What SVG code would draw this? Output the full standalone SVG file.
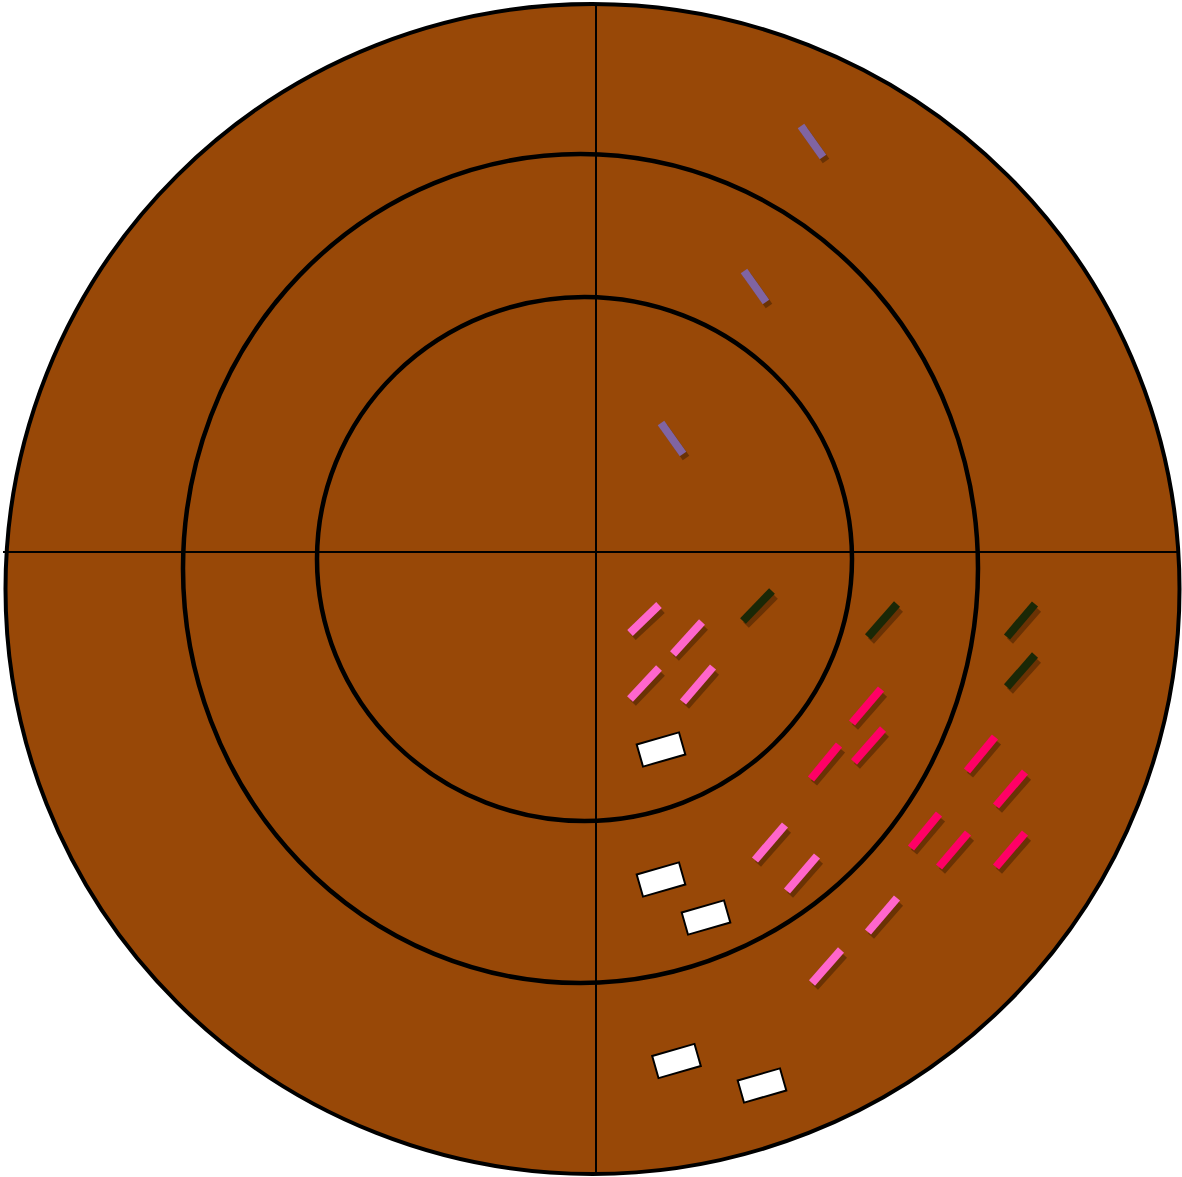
<svg xmlns="http://www.w3.org/2000/svg" width="1182" height="1177" viewBox="0 0 1182 1177">
<style>
.ring{fill:none;stroke:#000;stroke-width:4.5}
.axis{stroke:#000;stroke-width:2}
.sh{stroke:#6a3204;stroke-width:8}
.fg{stroke-width:8}
.pu .fg{stroke:#8064a2}
.pk .fg{stroke:#ff66cc}
.hp .fg{stroke:#ff0066}
.dg .fg{stroke:#1a2806}
.box{fill:#fff;stroke:#000;stroke-width:2}
</style>
<g id="disc">
<ellipse cx="592.5" cy="589" rx="587" ry="585" fill="#984807" stroke="#000" stroke-width="4"/>
<ellipse class="ring" cx="580.5" cy="568.5" rx="397.5" ry="414.5"/>
<ellipse class="ring" cx="584.5" cy="559" rx="267.5" ry="262"/>
<line class="axis" x1="596" y1="4" x2="596" y2="1174"/>
<line class="axis" x1="3" y1="552" x2="1180" y2="552"/>
</g>
<g id="purple-bars">
<g class="bar pu"><line class="sh" x1="804" y1="130" x2="826" y2="161" stroke-width="8"/><line class="fg" x1="801" y1="126" x2="823" y2="157" stroke-width="8"/></g>
<g class="bar pu"><line class="sh" x1="747" y1="275" x2="769" y2="306" stroke-width="8"/><line class="fg" x1="744" y1="271" x2="766" y2="302" stroke-width="8"/></g>
<g class="bar pu"><line class="sh" x1="664" y1="427" x2="686" y2="458" stroke-width="8"/><line class="fg" x1="661" y1="423" x2="683" y2="454" stroke-width="8"/></g>
</g>
<g id="pink-bars">
<g class="bar pk"><line class="sh" x1="633" y1="637" x2="662" y2="610"/><line class="fg" x1="630" y1="633" x2="659" y2="605"/></g>
<g class="bar pk"><line class="sh" x1="676" y1="658" x2="705" y2="627"/><line class="fg" x1="673" y1="654" x2="702" y2="622"/></g>
<g class="bar pk"><line class="sh" x1="633" y1="703" x2="662" y2="673"/><line class="fg" x1="630" y1="699" x2="659" y2="668"/></g>
<g class="bar pk"><line class="sh" x1="686" y1="706" x2="716" y2="672"/><line class="fg" x1="683" y1="702" x2="713" y2="667"/></g>
<g class="bar pk"><line class="sh" x1="758" y1="864" x2="788" y2="830"/><line class="fg" x1="755" y1="860" x2="785" y2="825"/></g>
<g class="bar pk"><line class="sh" x1="790" y1="895" x2="820" y2="861"/><line class="fg" x1="787" y1="891" x2="817" y2="856"/></g>
<g class="bar pk"><line class="sh" x1="871" y1="936" x2="900" y2="903"/><line class="fg" x1="868" y1="932" x2="897" y2="898"/></g>
<g class="bar pk"><line class="sh" x1="815" y1="987" x2="844" y2="955"/><line class="fg" x1="812" y1="983" x2="841" y2="950"/></g>
</g>
<g id="green-bars">
<g class="bar dg"><line class="sh" x1="746" y1="625" x2="775" y2="596"/><line class="fg" x1="743" y1="621" x2="772" y2="591"/></g>
<g class="bar dg"><line class="sh" x1="871" y1="641" x2="900" y2="609"/><line class="fg" x1="868" y1="637" x2="897" y2="604"/></g>
<g class="bar dg"><line class="sh" x1="1010" y1="641" x2="1038" y2="609"/><line class="fg" x1="1007" y1="637" x2="1035" y2="604"/></g>
<g class="bar dg"><line class="sh" x1="1010" y1="691" x2="1038" y2="660"/><line class="fg" x1="1007" y1="687" x2="1035" y2="655"/></g>
</g>
<g id="hotpink-bars">
<g class="bar hp"><line class="sh" x1="855" y1="727" x2="884" y2="694"/><line class="fg" x1="852" y1="723" x2="881" y2="689"/></g>
<g class="bar hp"><line class="sh" x1="857" y1="766" x2="886" y2="734"/><line class="fg" x1="854" y1="762" x2="883" y2="729"/></g>
<g class="bar hp"><line class="sh" x1="814" y1="783" x2="842" y2="750"/><line class="fg" x1="811" y1="779" x2="839" y2="745"/></g>
<g class="bar hp"><line class="sh" x1="970" y1="775" x2="998" y2="742"/><line class="fg" x1="967" y1="771" x2="995" y2="737"/></g>
<g class="bar hp"><line class="sh" x1="999" y1="810" x2="1028" y2="777"/><line class="fg" x1="996" y1="806" x2="1025" y2="772"/></g>
<g class="bar hp"><line class="sh" x1="914" y1="852" x2="942" y2="819"/><line class="fg" x1="911" y1="848" x2="939" y2="814"/></g>
<g class="bar hp"><line class="sh" x1="942" y1="871" x2="971" y2="838"/><line class="fg" x1="939" y1="867" x2="968" y2="833"/></g>
<g class="bar hp"><line class="sh" x1="999" y1="871" x2="1028" y2="838"/><line class="fg" x1="996" y1="867" x2="1025" y2="833"/></g>
</g>
<g id="white-boxes">
<rect class="box" x="-22" y="-11.5" width="44" height="23" transform="translate(661,749.5) rotate(-16)"/>
<rect class="box" x="-22" y="-11.5" width="44" height="23" transform="translate(661,879.5) rotate(-16)"/>
<rect class="box" x="-22" y="-11.5" width="44" height="23" transform="translate(706,917.5) rotate(-16)"/>
<rect class="box" x="-22" y="-11.5" width="44" height="23" transform="translate(676.5,1061) rotate(-16)"/>
<rect class="box" x="-22" y="-11.5" width="44" height="23" transform="translate(762,1085.5) rotate(-16)"/>
</g>
</svg>
